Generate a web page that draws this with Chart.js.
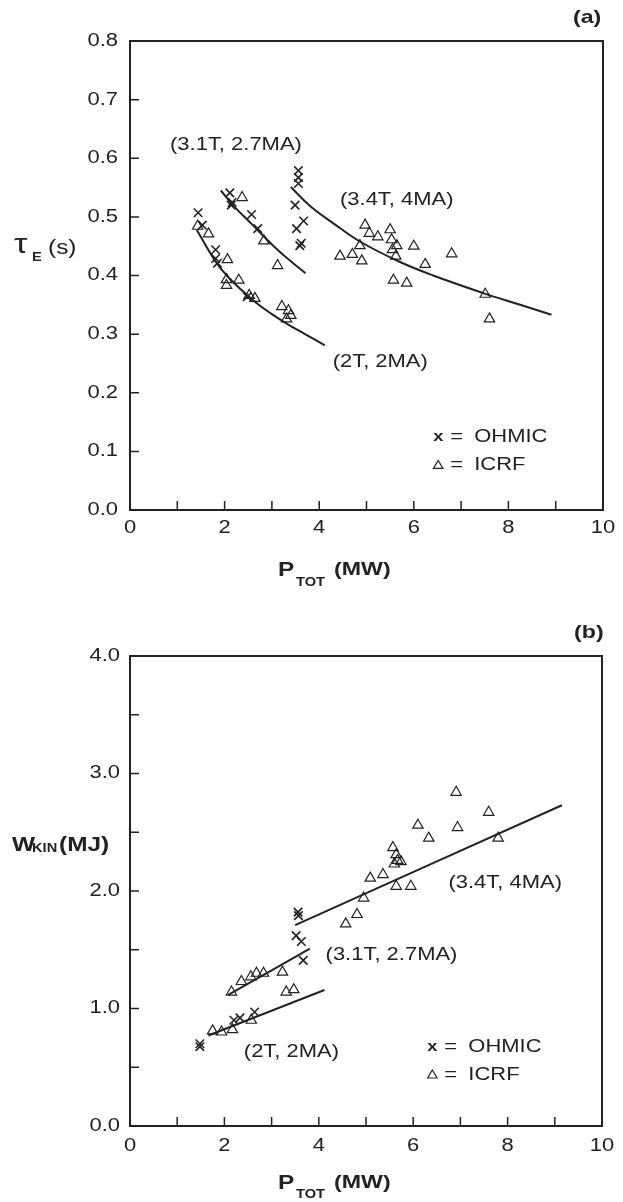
<!DOCTYPE html>
<html>
<head>
<meta charset="utf-8">
<script src="https://cdn.jsdelivr.net/npm/chart.js@4.4.1/dist/chart.umd.min.js"></script>
<style>
  html, body { margin: 0; padding: 0; background: #fff; }
  canvas { display: block; }
</style>
</head>
<body>
<canvas id="chartA" width="623" height="600"></canvas>
<canvas id="chartB" width="623" height="602"></canvas>
<script>
// ====== (a) confinement time vs total power ======
const ohmicA_P   = [1.44, 1.53, 1.81, 1.81, 1.85, 2.11, 2.16, 2.14, 2.57, 2.70, 2.48, 3.56, 3.56, 3.56, 3.49, 3.67, 3.52, 3.59, 3.62];
const ohmicA_tau = [0.507, 0.486, 0.444, 0.429, 0.421, 0.541, 0.525, 0.520, 0.504, 0.480, 0.364, 0.579, 0.567, 0.557, 0.520, 0.493, 0.480, 0.451, 0.455];
const icrfA_P    = [1.43, 1.66, 2.06, 2.04, 2.04, 2.30, 2.52, 2.64, 3.21, 3.35, 3.40, 3.31, 2.37, 2.83, 3.12,
                    4.44, 4.70, 4.90, 4.86, 4.97, 5.06, 5.24, 5.50, 5.53, 5.64, 5.55, 5.62, 5.57, 5.85, 6.00, 6.24, 6.80, 7.51, 7.60];
const icrfA_tau  = [0.484, 0.471, 0.427, 0.393, 0.383, 0.392, 0.366, 0.361, 0.347, 0.340, 0.332, 0.326, 0.533, 0.459, 0.417,
                    0.433, 0.436, 0.425, 0.451, 0.486, 0.472, 0.466, 0.478, 0.461, 0.451, 0.444, 0.433, 0.392, 0.387, 0.450, 0.419, 0.437, 0.368, 0.326];
// fitted curves
const fitA1_P = [1.41, 1.80, 2.08, 2.57, 3.00, 3.31, 3.70, 4.12];          // (2T, 2MA)
const fitA1_tau = [0.478, 0.425, 0.397, 0.360, 0.334, 0.318, 0.300, 0.281];
const fitA2_P = [1.92, 2.20, 2.57, 2.90, 3.17, 3.45, 3.71];                // (3.1T, 2.7MA)
const fitA2_tau = [0.545, 0.518, 0.488, 0.461, 0.440, 0.421, 0.404];
const fitA3_P = [3.40, 3.80, 4.30, 4.86, 5.71, 6.41, 7.47, 8.25, 8.91];    // (3.4T, 4MA)
const fitA3_tau = [0.551, 0.519, 0.489, 0.458, 0.423, 0.400, 0.370, 0.350, 0.333];

// ====== (b) kinetic energy vs total power ======
const ohmicB_P = [1.48, 1.48, 2.20, 2.33, 2.64, 3.56, 3.57, 3.52, 3.63, 3.67];
const ohmicB_W = [0.70, 0.675, 0.90, 0.92, 0.97, 1.82, 1.79, 1.62, 1.57, 1.41];
const icrfB_P  = [1.75, 1.94, 2.17, 2.57, 2.15, 2.36, 2.56, 2.68, 2.83, 3.23, 3.31, 3.47, 4.57, 4.81, 4.95,
                  5.09, 5.36, 5.64, 5.95, 5.57, 5.64, 5.67, 5.60, 5.74, 6.10, 6.33, 6.94, 6.91, 7.60, 7.80];
const icrfB_W  = [0.81, 0.80, 0.82, 0.90, 1.14, 1.23, 1.27, 1.30, 1.30, 1.31, 1.14, 1.16, 1.72, 1.80, 1.94,
                  2.11, 2.14, 2.04, 2.04, 2.37, 2.31, 2.26, 2.23, 2.25, 2.56, 2.45, 2.54, 2.84, 2.67, 2.45];
const fitB1_P = [1.66, 4.12], fitB1_W = [0.77, 1.157];   // (2T, 2MA)
const fitB2_P = [2.08, 3.81], fitB2_W = [1.115, 1.51];   // (3.1T, 2.7MA)
const fitB3_P = [3.50, 9.15], fitB3_W = [1.71, 2.73];    // (3.4T, 4MA)

// ====== ticks ======
const pTicks   = [0, 1, 2, 3, 4, 5, 6, 7, 8, 9, 10];
const pLabels  = ['0', '', '2', '', '4', '', '6', '', '8', '', '10'];
const tauTicks = [0, 0.1, 0.2, 0.3, 0.4, 0.5, 0.6, 0.7, 0.8];
const tauLabels = ['0.0', '0.1', '0.2', '0.3', '0.4', '0.5', '0.6', '0.7', '0.8'];
const wTicks   = [0, 0.5, 1, 1.5, 2, 2.5, 3, 3.5, 4];
const wLabels  = ['0.0', '', '1.0', '', '2.0', '', '3.0', '', '4.0'];

// ====== helpers ======
const INK = '#222';
const SX = 1.22;   // the scan is a bit wide, stretch the text the same way
const FONT = '"Liberation Sans", Arial, sans-serif';
const pts = (xs, ys) => xs.map((v, i) => ({ x: v, y: ys[i] }));

function stxt(ctx, s, x, y, font, align = 'left') {
  ctx.save();
  ctx.font = font;
  ctx.textBaseline = 'middle';
  ctx.textAlign = 'left';
  const w = ctx.measureText(s).width * SX;
  const x0 = align === 'center' ? x - w / 2 : align === 'right' ? x - w : x;
  ctx.translate(x0, y);
  ctx.scale(SX, 1);
  ctx.fillText(s, 0, 0);
  ctx.restore();
  return x0 + w;
}

function tri(ctx, cx, cy, r) {
  ctx.beginPath();
  ctx.moveTo(cx, cy - r);
  ctx.lineTo(cx + r * 0.95, cy + r * 0.6);
  ctx.lineTo(cx - r * 0.95, cy + r * 0.6);
  ctx.closePath();
  ctx.stroke();
}

// frame, inward ticks, labels and notes
function makeFigure(cfg) {
  return {
    id: 'figure' + cfg.tag,
    afterDraw(chart) {
      const { ctx, chartArea: a } = chart;
      const x = chart.scales.x, y = chart.scales.y;
      ctx.save();
      ctx.strokeStyle = INK;
      ctx.fillStyle = INK;
      ctx.lineWidth = 2;
      ctx.strokeRect(a.left, a.top, a.right - a.left, a.bottom - a.top);

      ctx.lineWidth = 1.5;
      ctx.beginPath();
      cfg.xTicks.forEach(v => {
        if (v <= x.min || v >= x.max) return;
        const px = x.getPixelForValue(v);
        ctx.moveTo(px, a.bottom); ctx.lineTo(px, a.bottom - 9);
      });
      cfg.yTicks.forEach(v => {
        if (v <= y.min || v >= y.max) return;
        const py = y.getPixelForValue(v);
        ctx.moveTo(a.left, py); ctx.lineTo(a.left + 9, py);
      });
      ctx.stroke();

      const tickFont = '18px ' + FONT;
      cfg.xTicks.forEach((v, i) => {
        if (cfg.xLabels[i]) stxt(ctx, cfg.xLabels[i], x.getPixelForValue(v), a.bottom + cfg.xGap, tickFont, 'center');
      });
      cfg.yTicks.forEach((v, i) => {
        if (cfg.yLabels[i]) stxt(ctx, cfg.yLabels[i], a.left - cfg.yGap, y.getPixelForValue(v), tickFont, 'right');
      });

      const noteFont = '18px ' + FONT;
      cfg.notes.forEach(n => stxt(ctx, n.text, x.getPixelForValue(n.p), y.getPixelForValue(n.v), noteFont, 'center'));

      // key
      const kx = x.getPixelForValue(cfg.key.p);
      const k1 = y.getPixelForValue(cfg.key.v1), k2 = y.getPixelForValue(cfg.key.v2);
      stxt(ctx, 'x', kx, k1, 'bold 15px ' + FONT);
      stxt(ctx, '=', kx + 17, k1, noteFont);
      stxt(ctx, 'OHMIC', kx + 41, k1, noteFont);
      ctx.lineWidth = 1.2;
      tri(ctx, kx + 5, k2, 5);
      stxt(ctx, '=', kx + 17, k2, noteFont);
      stxt(ctx, 'ICRF', kx + 41, k2, noteFont);

      cfg.runs.forEach(r => stxt(ctx, r[0], r[1], r[2], r[3]));
      ctx.restore();
    }
  };
}

function makeChart(id, sets, yMax, padding, fig) {
  return new Chart(document.getElementById(id), {
    type: 'scatter',
    data: { datasets: sets },
    options: {
      responsive: false,
      animation: false,
      layout: { padding },
      scales: {
        x: { type: 'linear', min: 0, max: 10, display: false },
        y: { type: 'linear', min: 0, max: yMax, display: false }
      },
      plugins: { legend: { display: false }, tooltip: { enabled: false } }
    },
    plugins: [makeFigure(fig)]
  });
}

const ohmicStyle = { pointStyle: 'crossRot', pointRadius: 6, borderColor: INK, borderWidth: 1.6, showLine: false };
const icrfStyle  = { pointStyle: 'triangle', pointRadius: 6, borderColor: INK, backgroundColor: 'rgba(0,0,0,0)', borderWidth: 1.2, showLine: false };
const fitStyle   = { showLine: true, pointRadius: 0, borderColor: INK, borderWidth: 2, tension: 0.4 };

const B = 'bold ';
makeChart('chartA', [
  { ...fitStyle, data: pts(fitA1_P, fitA1_tau) },
  { ...fitStyle, data: pts(fitA2_P, fitA2_tau) },
  { ...fitStyle, data: pts(fitA3_P, fitA3_tau) },
  { ...ohmicStyle, data: pts(ohmicA_P, ohmicA_tau) },
  { ...icrfStyle, data: pts(icrfA_P, icrfA_tau) }
], 0.8, { left: 130, right: 20, top: 41, bottom: 90 }, {
  tag: 'A', xTicks: pTicks, xLabels: pLabels, yTicks: tauTicks, yLabels: tauLabels, xGap: 18, yGap: 12,
  notes: [
    { text: '(3.1T, 2.7MA)', p: 2.24, v: 0.622 },
    { text: '(3.4T, 4MA)', p: 5.64, v: 0.528 },
    { text: '(2T, 2MA)', p: 5.29, v: 0.252 }
  ],
  key: { p: 6.41, v1: 0.124, v2: 0.076 },
  runs: [
    ['(a)', 573, 18, B + '19px ' + FONT],
    ['\u03c4', 14, 245, '28px ' + FONT],
    ['E', 32, 258, B + '12px ' + FONT],
    ['(s)', 48, 248, '20px ' + FONT],
    ['P', 278, 570, B + '20px ' + FONT],
    ['TOT', 296, 583, B + '12px ' + FONT],
    ['(MW)', 334, 570, B + '19px ' + FONT]
  ]
});

makeChart('chartB', [
  { ...fitStyle, data: pts(fitB1_P, fitB1_W) },
  { ...fitStyle, data: pts(fitB2_P, fitB2_W) },
  { ...fitStyle, data: pts(fitB3_P, fitB3_W) },
  { ...ohmicStyle, data: pts(ohmicB_P, ohmicB_W) },
  { ...icrfStyle, data: pts(icrfB_P, icrfB_W) }
], 4.0, { left: 130, right: 21, top: 56, bottom: 76 }, {
  tag: 'B', xTicks: pTicks, xLabels: pLabels, yTicks: wTicks, yLabels: wLabels, xGap: 20, yGap: 10,
  notes: [
    { text: '(3.4T, 4MA)', p: 7.95, v: 2.07 },
    { text: '(3.1T, 2.7MA)', p: 5.54, v: 1.455 },
    { text: '(2T, 2MA)', p: 3.42, v: 0.63 }
  ],
  key: { p: 6.30, v1: 0.672, v2: 0.434 },
  runs: [
    ['(b)', 574, 33, B + '19px ' + FONT],
    ['W', 12, 245, B + '20px ' + FONT],
    ['KIN', 32, 249, B + '12px ' + FONT],
    ['(MJ)', 59, 245, B + '20px ' + FONT],
    ['P', 278, 583, B + '20px ' + FONT],
    ['TOT', 296, 595, B + '12px ' + FONT],
    ['(MW)', 334, 583, B + '19px ' + FONT]
  ]
});
</script>
</body>
</html>
